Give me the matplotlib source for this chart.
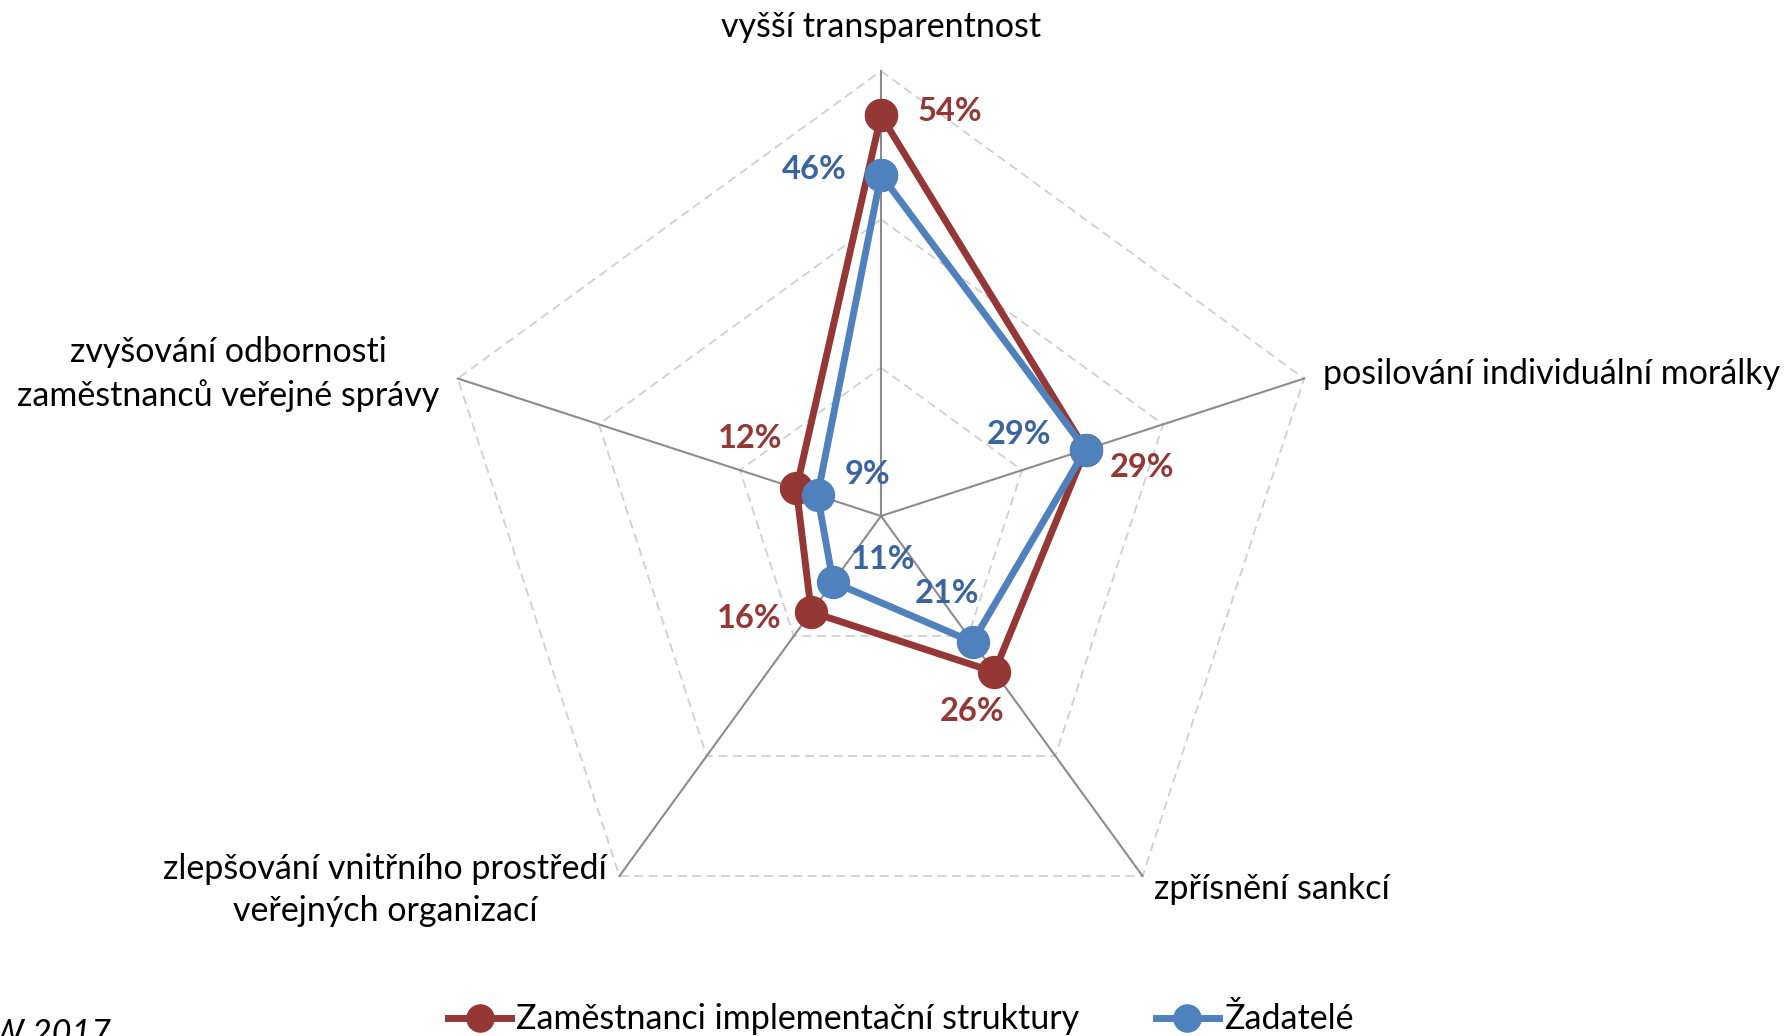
import numpy as np
import matplotlib.pyplot as plt

plt.rcParams['font.family'] = ['Lato', 'DejaVu Sans']

categories = ["vyšší transparentnost", "posilování individuální morálky", "zpřísnění sankcí",
              "zlepšování vnitřního prostředí\nveřejných organizací",
              "zvyšování odbornosti\nzaměstnanců veřejné správy"]
zamestnanci = [0.54, 0.29, 0.26, 0.16, 0.12]
zadatele = [0.46, 0.29, 0.21, 0.11, 0.09]
series_names = ["Zaměstnanci implementační struktury", "Žadatelé"]
rings = [0.2, 0.4, 0.6]

red = '#953735'
blue = '#4F81BD'
blue_txt = '#3A64A0'

W, H = 1791, 1036
cx, cy = 881, 516
scale = 445 / 0.6  # pixels per 100 %

fig = plt.figure(figsize=(W / 100, H / 100), dpi=100)
ax = fig.add_axes([0, 0, 1, 1])
ax.set_xlim(0, W)
ax.set_ylim(H, 0)
ax.axis('off')

n = len(categories)
ang = np.deg2rad(90 - 72 * np.arange(n))

def xy(vals):
    r = np.asarray(vals) * scale
    return cx + r * np.cos(ang), cy - r * np.sin(ang)

# grid
for g in rings:
    gx, gy = xy([g] * n)
    ax.plot(np.append(gx, gx[0]), np.append(gy, gy[0]), color='#D0D0D0', lw=1.3, ls=(0, (5, 3)), zorder=1)
ox, oy = xy([rings[-1]] * n)
for i in range(n):
    ax.plot([cx, ox[i]], [cy, oy[i]], color='#8C8C8C', lw=1.5, zorder=2)

# series
rx, ry = xy(zamestnanci)
bx, by = xy(zadatele)
ax.plot(np.append(rx, rx[0]), np.append(ry, ry[0]), color=red, lw=5, marker='o', ms=23,
        solid_joinstyle='miter', zorder=3, label=series_names[0])
ax.plot(np.append(bx, bx[0]), np.append(by, by[0]), color=blue, lw=5, marker='o', ms=23,
        solid_joinstyle='miter', zorder=4, label=series_names[1])

# data labels
red_off = [(69, -4), (56, 18), (-22, 39), (-62, 6), (-46, -50)]
blue_off = [(-67, -5), (-67, -15), (-26, -49), (50, -23), (50, -21)]
for i in range(n):
    ax.text(rx[i] + red_off[i][0], ry[i] + red_off[i][1], f"{round(zamestnanci[i] * 100)}%",
            color=red, fontsize=23.5, fontweight='bold', ha='center', va='center', zorder=5)
    ax.text(bx[i] + blue_off[i][0], by[i] + blue_off[i][1], f"{round(zadatele[i] * 100)}%",
            color=blue_txt, fontsize=23.5, fontweight='bold', ha='center', va='center', zorder=5)

# category labels
lab_pos = [(881, 27, 'center'), (1323, 374, 'left'), (1154, 889, 'left'),
           (385, 890, 'center'), (228, 374, 'center')]
for (x, y, ha), c in zip(lab_pos, categories):
    ax.text(x, y, c, fontsize=24.5, ha=ha, va='center', ma='center', linespacing=1.4, color='black')

ax.text(-30, 1034, "AW 2017", fontsize=24.5, style='italic', ha='left', va='center')

fig.legend(loc='center', bbox_to_anchor=(0.503, 0.016), ncol=2, frameon=False, fontsize=24.5,
           handlelength=1.85, handletextpad=0.15, columnspacing=2.25, markerscale=0.85)

fig.savefig('out.png', dpi=100)
